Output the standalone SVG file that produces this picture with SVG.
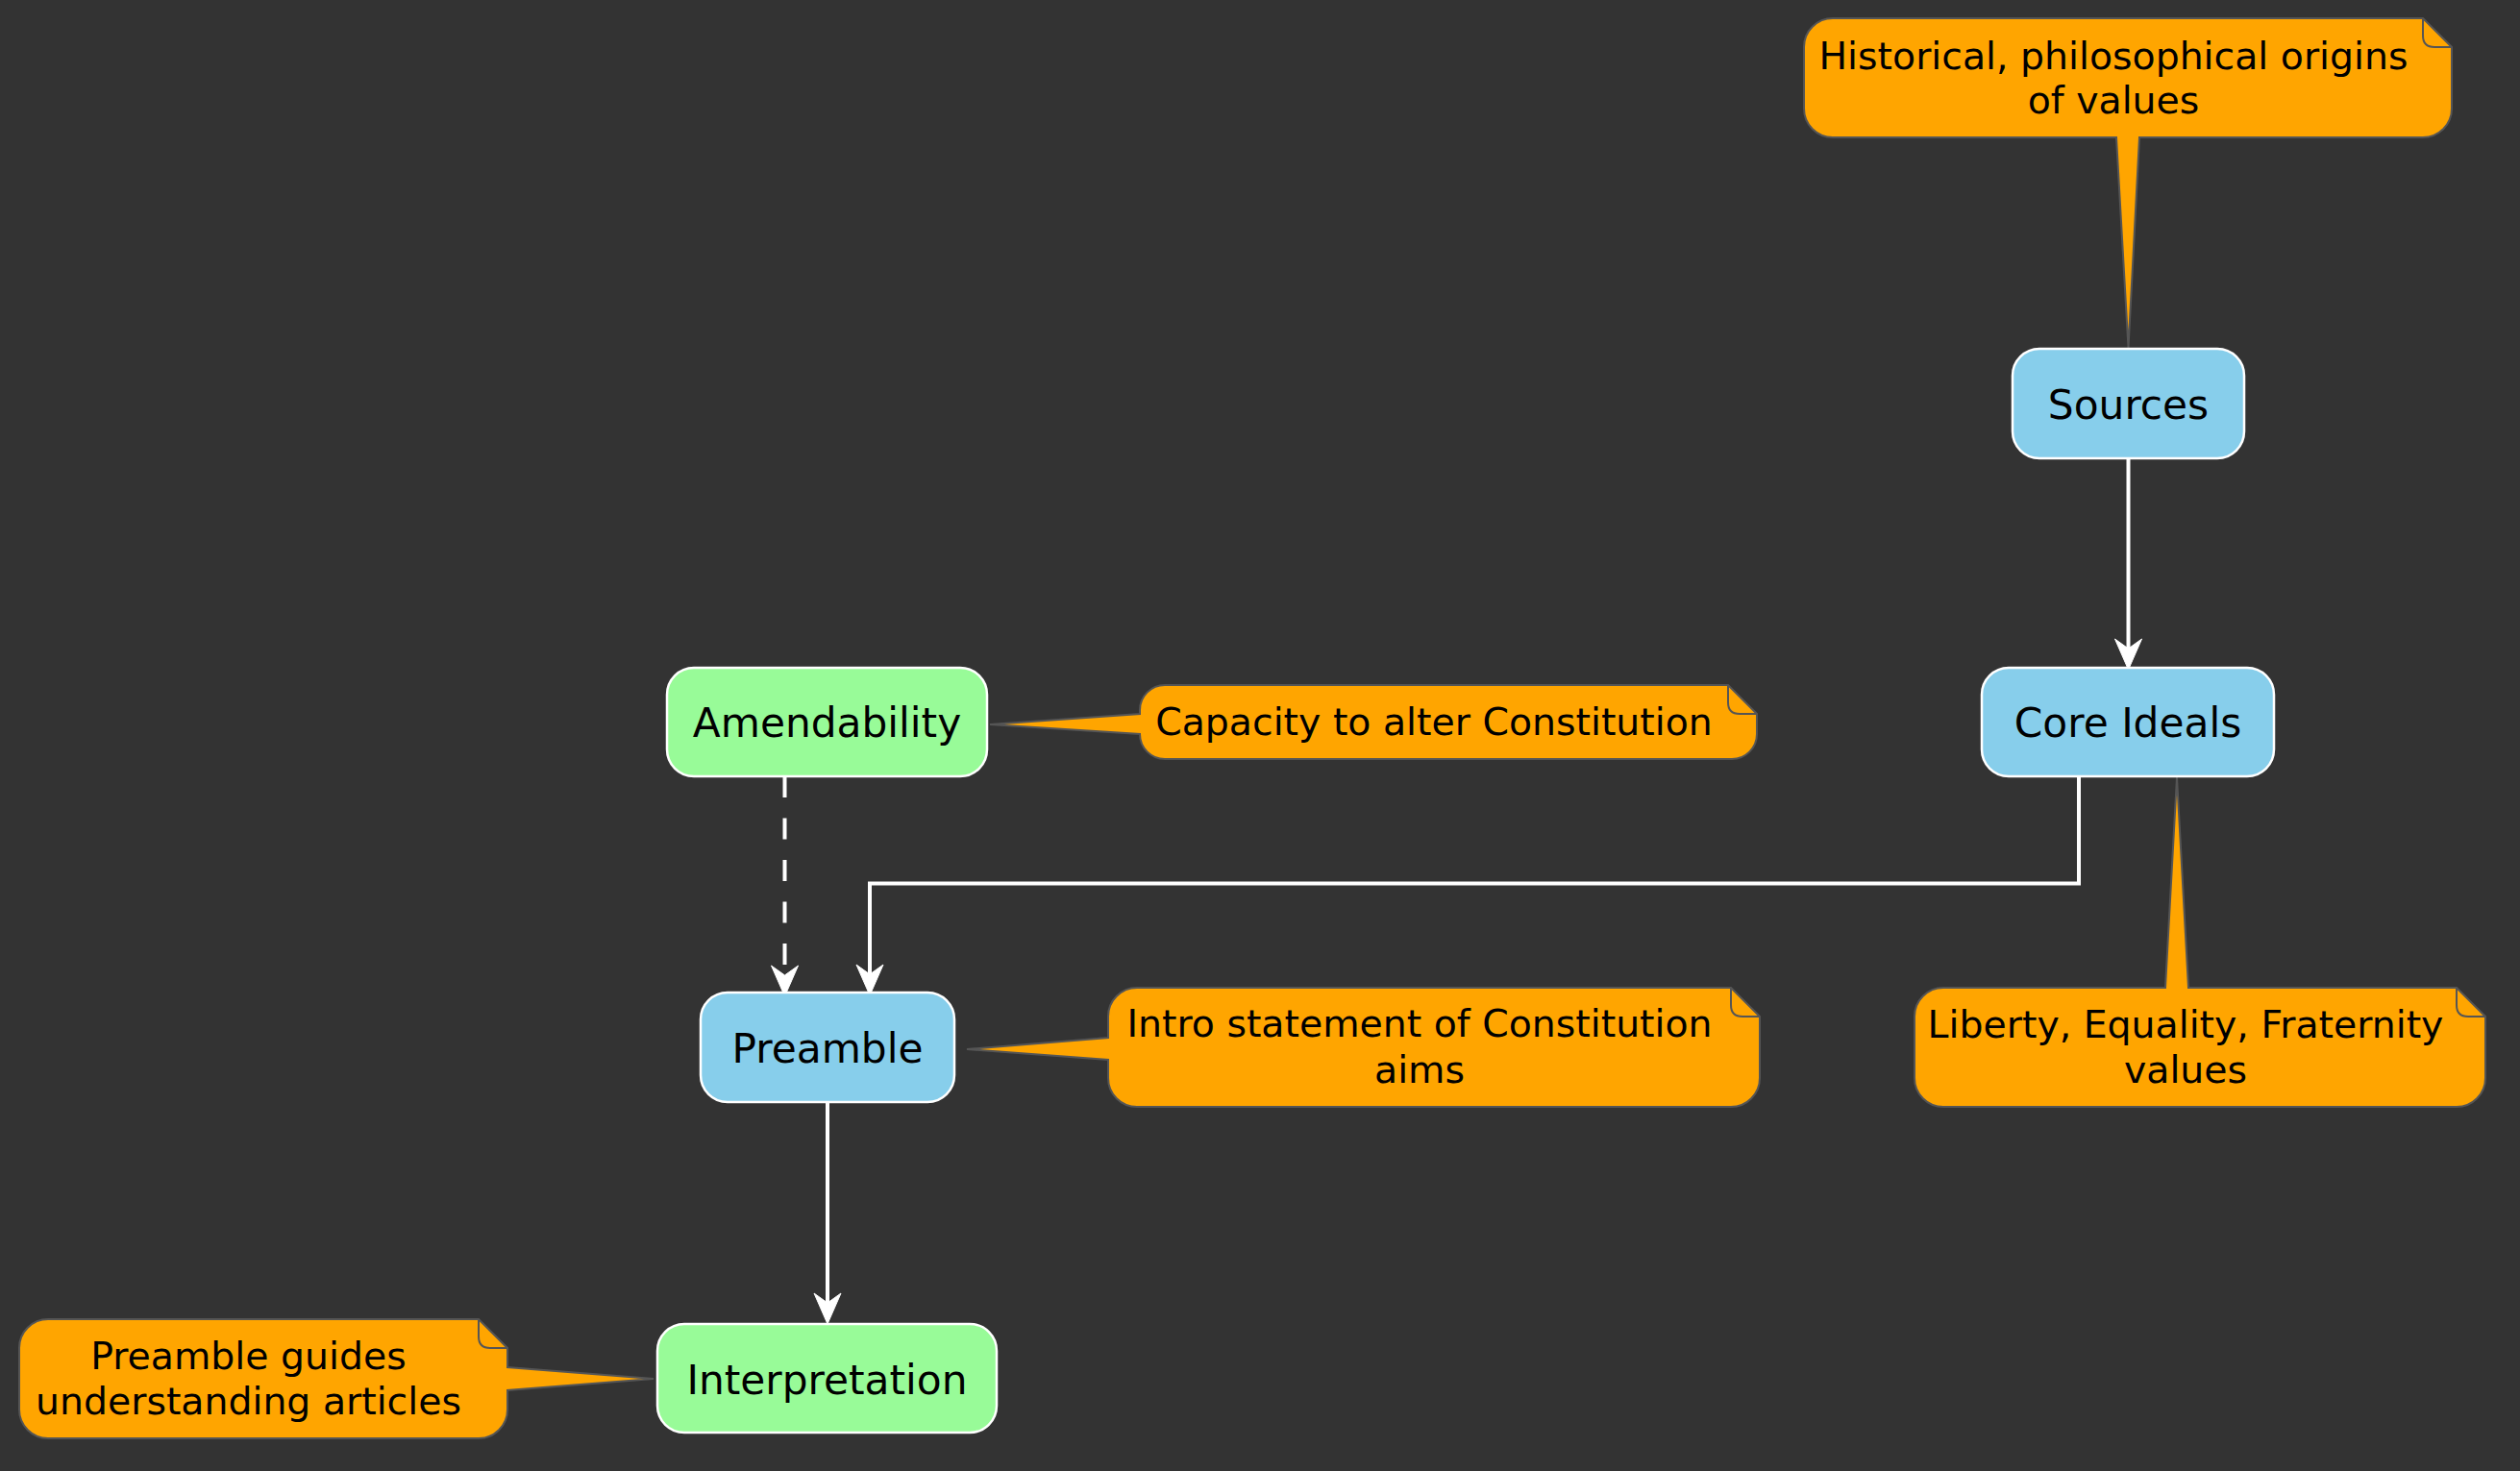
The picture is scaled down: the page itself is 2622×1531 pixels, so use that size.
<svg xmlns="http://www.w3.org/2000/svg" width="2622" height="1531" viewBox="0 0 2622 1531">
<style>
.bg{fill:#333333}
.node rect{stroke:#ffffff;stroke-width:2.5}
.blue rect{fill:#87CEEB}
.green rect{fill:#98FB98}
.node text{font-family:"DejaVu Sans",Verdana,sans-serif;font-size:42.3px;fill:#000000;text-anchor:middle}
.note path.body{fill:#FFA500;stroke:#555555;stroke-width:2}
.note path.fold{fill:none;stroke:#555555;stroke-width:2}
.note text{font-family:"DejaVu Sans",Verdana,sans-serif;font-size:39.4px;fill:#000000;text-anchor:middle}
.edge{fill:none;stroke:#ffffff;stroke-width:4}
.dashed{stroke-dasharray:22 21.5}
</style>
<defs>
<marker id="arrow" markerUnits="userSpaceOnUse" viewBox="-14 -16 36 32" markerWidth="36" markerHeight="32" refX="0" refY="0" orient="auto">
<path d="M20,0 L-12,-14 L-2,0 L-12,14 Z" fill="#ffffff" stroke="#ffffff" stroke-width="1" stroke-linejoin="miter"/>
</marker>
</defs>
<rect class="bg" x="0" y="0" width="2622" height="1531"/>

<g id="connectors">
<path class="edge" d="M2214.5,477 L2214.5,677" marker-end="url(#arrow)"/>
<path class="edge" d="M2163,808 L2163,919.5 L905,919.5 L905,1016" marker-end="url(#arrow)"/>
<path class="edge dashed" d="M816.5,808 L816.5,1017" marker-end="url(#arrow)"/>
<path class="edge" d="M861,1147 L861,1358" marker-end="url(#arrow)"/>
</g>

<g id="note-sources" class="note">
<path class="body" d="M1907,19 L2521,19 L2551,49 L2551,113 A30,30 0 0 1 2521,143 L2226,143 L2214.5,362 L2202,143 L1907,143 A30,30 0 0 1 1877,113 L1877,49 A30,30 0 0 1 1907,19 Z"/>
<path class="fold" d="M2521,19 L2521,37 Q2521,49 2533,49 L2551,49"/>
<text x="2199" y="72">Historical, philosophical origins</text>
<text x="2199" y="118">of values</text>
</g>

<g id="note-core" class="note">
<path class="body" d="M2022,1028 L2253,1028 L2265,809 L2277,1028 L2556,1028 L2586,1058 L2586,1122 A30,30 0 0 1 2556,1152 L2022,1152 A30,30 0 0 1 1992,1122 L1992,1058 A30,30 0 0 1 2022,1028 Z"/>
<path class="fold" d="M2556,1028 L2556,1046 Q2556,1058 2568,1058 L2586,1058"/>
<text x="2274" y="1080">Liberty, Equality, Fraternity</text>
<text x="2274" y="1127">values</text>
</g>

<g id="note-amend" class="note">
<path class="body" d="M1212,713 L1798,713 L1828,743 L1828,764 A26,26 0 0 1 1802,790 L1212,790 A26,26 0 0 1 1186,764 L1030,754 L1186,743 L1186,739 A26,26 0 0 1 1212,713 Z"/>
<path class="fold" d="M1798,713 L1798,731 Q1798,743 1810,743 L1828,743"/>
<text x="1492" y="765">Capacity to alter Constitution</text>
</g>

<g id="note-preamble" class="note">
<path class="body" d="M1183,1028 L1801,1028 L1831,1058 L1831,1122 A30,30 0 0 1 1801,1152 L1183,1152 A30,30 0 0 1 1153,1122 L1153,1103 L1006,1092 L1153,1080 L1153,1058 A30,30 0 0 1 1183,1028 Z"/>
<path class="fold" d="M1801,1028 L1801,1046 Q1801,1058 1813,1058 L1831,1058"/>
<text x="1477" y="1079">Intro statement of Constitution</text>
<text x="1477" y="1127">aims</text>
</g>

<g id="note-interp" class="note">
<path class="body" d="M50,1373 L498,1373 L528,1403 L528,1423 L680,1435 L528,1447 L528,1467 A30,30 0 0 1 498,1497 L50,1497 A30,30 0 0 1 20,1467 L20,1403 A30,30 0 0 1 50,1373 Z"/>
<path class="fold" d="M498,1373 L498,1391 Q498,1403 510,1403 L528,1403"/>
<text x="258.5" y="1425">Preamble guides</text>
<text x="258.5" y="1472">understanding articles</text>
</g>

<g id="sources" class="node blue">
<rect x="2094" y="363" width="241" height="114" rx="28" ry="28"/>
<text x="2214.5" y="435.5">Sources</text>
</g>
<g id="core-ideals" class="node blue">
<rect x="2062" y="695" width="304" height="113" rx="28" ry="28"/>
<text x="2214" y="767">Core Ideals</text>
</g>
<g id="amendability" class="node green">
<rect x="694" y="695" width="333" height="113" rx="28" ry="28"/>
<text x="860.5" y="767">Amendability</text>
</g>
<g id="preamble" class="node blue">
<rect x="729" y="1033" width="264" height="114" rx="28" ry="28"/>
<text x="861" y="1105.5">Preamble</text>
</g>
<g id="interpretation" class="node green">
<rect x="684" y="1378" width="353" height="113" rx="28" ry="28"/>
<text x="860.5" y="1450.5">Interpretation</text>
</g>
</svg>
